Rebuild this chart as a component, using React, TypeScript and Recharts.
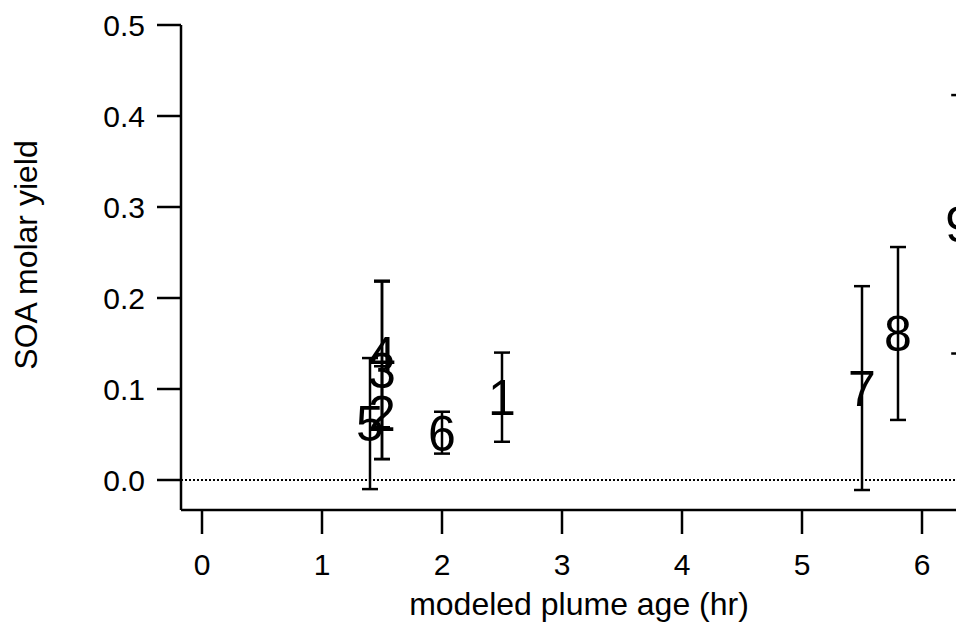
import React from 'react';
import { ScatterChart, Scatter, XAxis, YAxis, ErrorBar, ReferenceLine, Label } from 'recharts';

const labels = ['1', '2', '3', '4', '5', '6', '7', '8', '9'];
const plumeAge = [2.5, 1.5, 1.5, 1.5, 1.4, 2.0, 5.5, 5.8, 6.31];
const molarYield = [0.091, 0.074, 0.121, 0.138, 0.062, 0.052, 0.101, 0.161, 0.281];
const yieldErr = [0.049, 0.051, 0.098, 0.080, 0.072, 0.023, 0.112, 0.095, 0.142];

const xTicks = [0, 1, 2, 3, 4, 5, 6];
const yTicks = [0, 0.1, 0.2, 0.3, 0.4, 0.5];

const data = labels.map((l, i) => ({ label: l, x: plumeAge[i], y: molarYield[i], err: yieldErr[i] }));

const FONT = '"Liberation Sans", Arial, Helvetica, sans-serif';
const MARKER_SIZE = 50;

const TextMarker = (props: any) => {
  const { cx, cy, payload } = props;
  if (cx == null || cy == null) return null;
  return (
    <text
      x={cx}
      y={cy + MARKER_SIZE * 0.358}
      textAnchor="middle"
      fontFamily={FONT}
      fontSize={MARKER_SIZE}
      fill="#000"
    >
      {payload.label}
    </text>
  );
};

export default function App() {
  return (
    <div style={{ position: 'absolute', left: 0, top: 0, width: 956, height: 623, overflow: 'hidden', background: '#fff' }}>
      <ScatterChart width={967} height={623} margin={{ top: 25, right: 0, bottom: 13, left: 11 }}>
        <XAxis
          type="number"
          dataKey="x"
          domain={[-0.175, 6.375]}
          ticks={xTicks}
          interval={0}
          allowDataOverflow
          height={100}
          tickSize={24}
          tickMargin={20}
          axisLine={{ stroke: '#000', strokeWidth: 2.5 }}
          tickLine={{ stroke: '#000', strokeWidth: 2.5 }}
          tick={{ fill: '#000', fontSize: 30, fontFamily: FONT }}
        >
          <Label
            content={(p: any) => {
              const vb = p.viewBox || { x: 181, width: 786 };
              return (
                <text x={vb.x + vb.width / 2 + 5} y={615} textAnchor="middle" fontFamily={FONT} fontSize={32} fill="#000">
                  modeled plume age (hr)
                </text>
              );
            }}
          />
        </XAxis>
        <YAxis
          type="number"
          dataKey="y"
          domain={[-0.032967, 0.5]}
          ticks={yTicks}
          interval={0}
          allowDataOverflow
          width={170}
          tickSize={24}
          tickMargin={12}
          tickFormatter={(v: number) => v.toFixed(1)}
          axisLine={{ stroke: '#000', strokeWidth: 2.5 }}
          tickLine={{ stroke: '#000', strokeWidth: 2.5 }}
          tick={{ fill: '#000', fontSize: 30, fontFamily: FONT }}
        >
          <Label
            content={() => (
              <text
                x={37}
                y={255}
                transform="rotate(-90, 37, 255)"
                textAnchor="middle"
                fontFamily={FONT}
                fontSize={32}
                fill="#000"
              >
                SOA molar yield
              </text>
            )}
          />
        </YAxis>
        <ReferenceLine y={0} stroke="#000" strokeWidth={2} strokeDasharray="2 2" />
        <Scatter data={data} shape={<TextMarker />} isAnimationActive={false}>
          <ErrorBar dataKey="err" direction="y" width={8} stroke="#000" strokeWidth={2.5} isAnimationActive={false} />
        </Scatter>
      </ScatterChart>
    </div>
  );
}
